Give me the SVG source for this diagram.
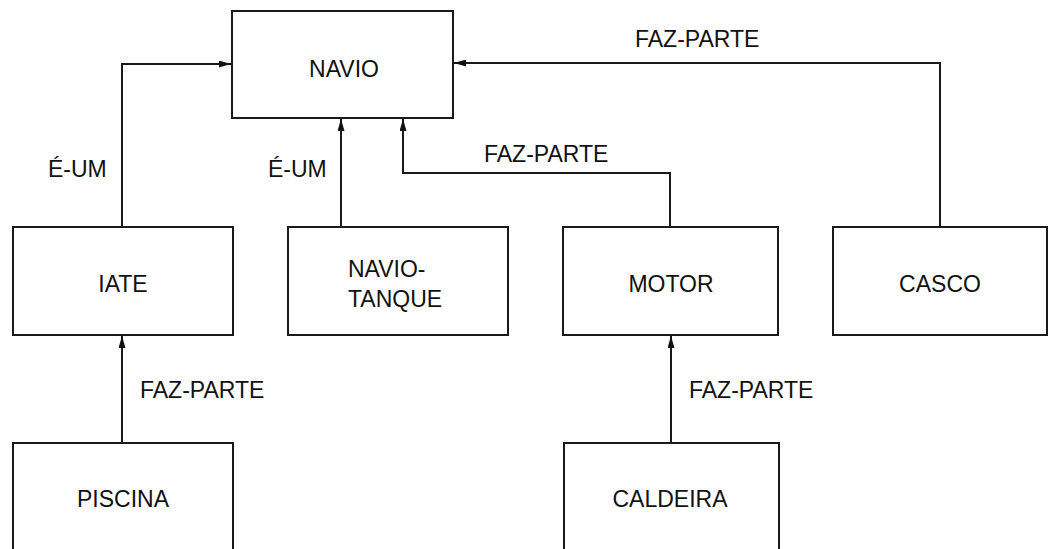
<svg xmlns="http://www.w3.org/2000/svg" width="1050" height="549" viewBox="0 0 1050 549">
<style>
.box{fill:#fff;stroke:#1a1a1a;stroke-width:2}
.t{font-family:"Liberation Sans",Arial,sans-serif;font-size:23px;fill:#111}
.c{text-anchor:middle}
.ln{fill:none;stroke:#1a1a1a;stroke-width:2}
</style>
<defs>
<marker id="arr" markerWidth="12" markerHeight="7" refX="12" refY="3.5" orient="auto" markerUnits="userSpaceOnUse">
<path d="M0,0 L12,3.5 L0,7 Z" fill="#111"/>
</marker>
</defs>
<rect width="1050" height="549" fill="#fff"/>
<g id="connectors">
<polyline class="ln" points="122,227 122,64 231,64" marker-end="url(#arr)"/>
<line class="ln" x1="341" y1="227" x2="341" y2="119" marker-end="url(#arr)"/>
<polyline class="ln" points="670,227 670,173 403,173 403,119" marker-end="url(#arr)"/>
<polyline class="ln" points="940,227 940,63 454,63" marker-end="url(#arr)"/>
<line class="ln" x1="122" y1="443" x2="122" y2="336" marker-end="url(#arr)"/>
<line class="ln" x1="671" y1="443" x2="671" y2="336" marker-end="url(#arr)"/>
<text class="t" x="48" y="177">É-UM</text>
<text class="t" x="268" y="177">É-UM</text>
<text class="t" x="484" y="162">FAZ-PARTE</text>
<text class="t" x="635" y="47">FAZ-PARTE</text>
<text class="t" x="140" y="398">FAZ-PARTE</text>
<text class="t" x="689" y="398">FAZ-PARTE</text>
</g>
<g id="navio"><rect class="box" x="232" y="11" width="221" height="107"/><text class="t c" x="344" y="77">NAVIO</text></g>
<g id="iate"><rect class="box" x="13" y="227" width="220" height="108"/><text class="t c" x="123" y="292">IATE</text></g>
<g id="navio-tanque"><rect class="box" x="288" y="227" width="220" height="108"/><text class="t" x="348" y="277">NAVIO-</text><text class="t" x="348" y="307">TANQUE</text></g>
<g id="motor"><rect class="box" x="563" y="227" width="215" height="108"/><text class="t c" x="671" y="292">MOTOR</text></g>
<g id="casco"><rect class="box" x="833" y="227" width="214" height="108"/><text class="t c" x="940" y="292">CASCO</text></g>
<g id="piscina"><rect class="box" x="13" y="443" width="220" height="120"/><text class="t c" x="123" y="507">PISCINA</text></g>
<g id="caldeira"><rect class="box" x="564" y="443" width="215" height="120"/><text class="t c" x="670" y="507">CALDEIRA</text></g>
</svg>
